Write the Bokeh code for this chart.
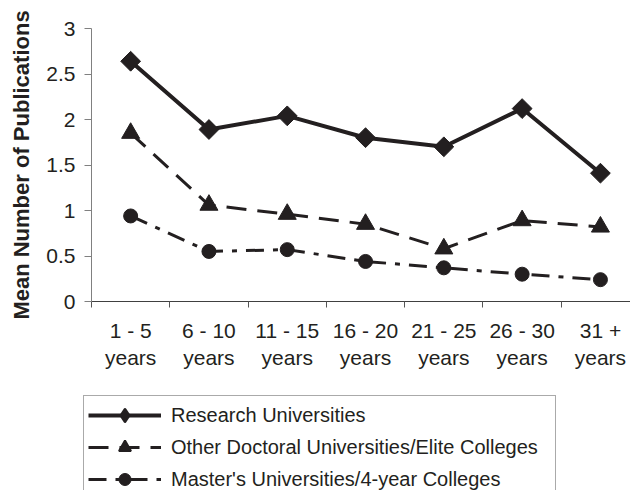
import math
from bokeh.plotting import figure
from bokeh.layouts import column
from bokeh.models import FixedTicker, Legend, LegendItem, Range1d
from bokeh.embed import file_html
from bokeh.resources import INLINE

categories = ["1 - 5\nyears", "6 - 10\nyears", "11 - 15\nyears", "16 - 20\nyears",
              "21 - 25\nyears", "26 - 30\nyears", "31 +\nyears"]
research = [2.64, 1.89, 2.04, 1.80, 1.70, 2.12, 1.41]
doctoral = [1.85, 1.06, 0.96, 0.85, 0.58, 0.89, 0.82]
masters = [0.94, 0.55, 0.57, 0.44, 0.37, 0.30, 0.24]
y_ticks = [0, 0.5, 1, 1.5, 2, 2.5, 3]
y_labels = ["0", "0.5", "1", "1.5", "2", "2.5", "3"]
series_names = ["Research Universities",
                "Other Doctoral Universities/Elite Colleges",
                "Master's Universities/4-year Colleges"]

x = list(range(1, len(categories) + 1))
bounds = [i + 0.5 for i in range(0, len(categories) + 1)]

INK = "#231f20"
FONT = "Liberation Sans"


def draw_series(fig, for_legend=False):
    r1 = fig.line(x, research, line_color=INK, line_width=4)
    if for_legend:
        s1 = fig.scatter(x, research, marker="diamond", size=12, fill_color=INK,
                         line_color=INK, line_width=3, line_join="round")
    else:
        s1 = fig.scatter(x, research, marker="square", angle=math.pi / 4, size=14,
                         fill_color=INK, line_color=INK)
    r2 = fig.line(x, doctoral, line_color=INK, line_width=3, line_dash="20 11")
    s2 = fig.scatter(x, doctoral, marker="triangle", size=18, fill_color=INK, line_color=INK,
                     line_width=2 if for_legend else 1)
    r3 = fig.line(x, masters, line_color=INK, line_width=3, line_dash="18 9 5 9")
    s3 = fig.scatter(x, masters, marker="circle", size=14, fill_color=INK, line_color=INK)
    return [(r1, s1), (r2, s2), (r3, s3)]


p = figure(width=630, height=385, output_backend="svg", toolbar_location=None,
           x_range=Range1d(0.5, 7.384), y_range=Range1d(0, 3),
           min_border_left=91, min_border_right=0, min_border_top=28, min_border_bottom=84)
p.outline_line_color = None
p.xgrid.visible = False
p.ygrid.visible = False
p.frame_align = False
draw_series(p)

# x axis
xa = p.xaxis[0]
xa.ticker = FixedTicker(ticks=x, minor_ticks=bounds)
xa.major_label_overrides = {i: c for i, c in zip(x, categories)}
xa.major_tick_out = 0
xa.major_tick_in = 0
xa.minor_tick_out = 6
xa.minor_tick_in = 0
xa.minor_tick_line_color = "#555555"
xa.axis_line_color = "#404040"
xa.major_label_text_font = FONT
xa.major_label_text_font_size = "21px"
xa.major_label_text_color = INK
xa.major_label_standoff = 11

# y axis
ya = p.yaxis[0]
ya.ticker = FixedTicker(ticks=y_ticks, minor_ticks=[])
ya.major_label_overrides = {t: l for t, l in zip(y_ticks, y_labels)}
ya.major_tick_out = 7
ya.major_tick_in = 0
ya.major_tick_line_color = "#808080"
ya.axis_line_color = "#808080"
ya.major_label_text_font = FONT
ya.major_label_text_font_size = "21px"
ya.major_label_text_color = INK
ya.major_label_standoff = 9
ya.axis_label = "Mean Number of Publications"
ya.axis_label_text_font = FONT
ya.axis_label_text_font_style = "bold"
ya.axis_label_text_font_size = "22px"
ya.axis_label_text_color = INK
ya.axis_label_standoff = 9

# legend figure (series drawn out of view; only the legend shows)
q = figure(width=630, height=105, output_backend="svg", toolbar_location=None,
           x_range=Range1d(100, 101), y_range=Range1d(100, 101),
           x_axis_location=None, y_axis_location=None,
           min_border_left=0, min_border_right=0, min_border_top=0, min_border_bottom=0)
q.outline_line_color = None
q.xgrid.visible = False
q.ygrid.visible = False
q.frame_align = False
pairs = draw_series(q, for_legend=True)

legend = Legend(items=[LegendItem(label=name, renderers=list(pair))
                       for name, pair in zip(series_names, pairs)],
                location=(83, -9))
legend.label_text_font = FONT
legend.label_text_font_size = "20px"
legend.label_text_color = INK
legend.glyph_width = 73
legend.glyph_height = 30
legend.label_height = 26
legend.label_width = 380
legend.spacing = 2
legend.padding = 4
legend.margin = 0
legend.label_standoff = 10
legend.border_line_color = "#555555"
legend.border_line_width = 1
legend.background_fill_alpha = 1
q.add_layout(legend, "center")

layout = column(p, q, spacing=0)
open("out.html", "w").write(file_html(layout, INLINE))
